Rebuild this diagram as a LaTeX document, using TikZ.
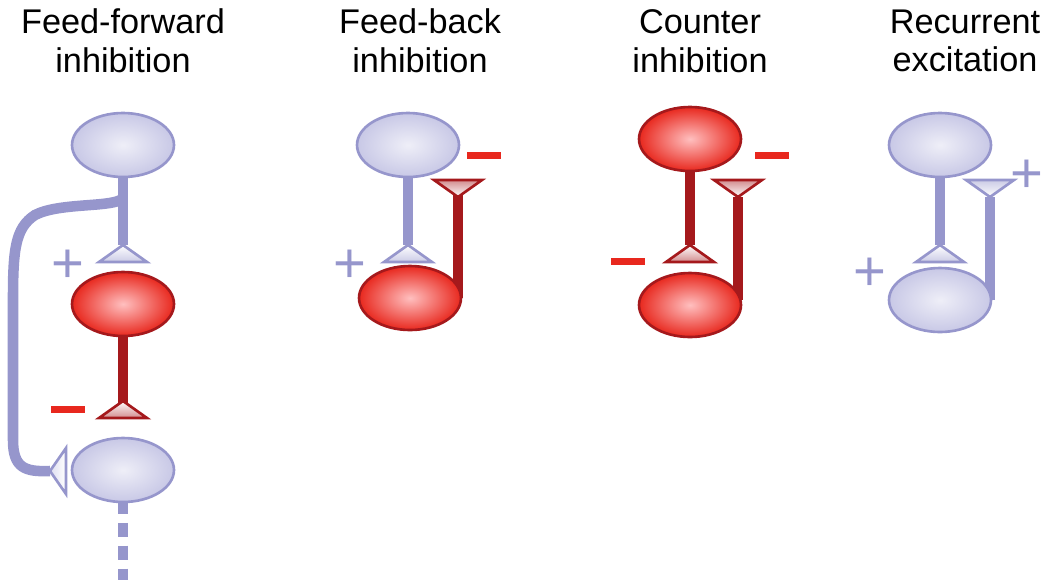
\documentclass[tikz,border=0pt]{standalone}
\usepackage{fontspec}
\setmainfont{Liberation Sans}
\usetikzlibrary{shapes.geometric}
\definecolor{lav}{RGB}{200,200,230}
\definecolor{lavline}{RGB}{150,150,204}
\definecolor{nred}{RGB}{232,40,30}
\definecolor{dred}{RGB}{165,25,28}
\tikzset{
  exc/.style={ellipse, draw=lavline, line width=1.5pt, minimum width=2.04cm, minimum height=1.28cm,
    inner color=white!70!lav, outer color=lav},
  inh/.style={ellipse, draw=dred, line width=1.5pt, minimum width=2.04cm, minimum height=1.28cm,
    inner color=red!25, outer color=nred},
  lax/.style={lavline, line width=6pt},
  rax/.style={dred, line width=6pt},
  title/.style={align=center, font=\fontsize{19.5}{22}\selectfont},
  sgn/.style={font=\fontsize{32}{32}\selectfont}
}
% synapse: up (apex above base) or down
\newcommand{\synup}[3]{\draw[#3, line width=1.5pt, top color=white, bottom color=#3!50] (#1,#2) -- (#1-24,#2+17) -- (#1+24,#2+17) -- cycle;}
\newcommand{\syndown}[3]{\draw[#3, line width=1.5pt, top color=#3!50, bottom color=white] (#1,#2) -- (#1-24,#2-17) -- (#1+24,#2-17) -- cycle;}
\newcommand{\minus}{\rule[0.3ex]{0.6em}{3.5pt}}
\begin{document}
\begin{tikzpicture}[x=0.02cm, y=-0.02cm]
\useasboundingbox (0,0) rectangle (1050,582);
% titles
\node[title] (t1) at (123,41) {Feed-forward\\inhibition};
\node[title] (t2) at (420,41) {Feed-back\\inhibition};
\node[title] (t3) at (700,41) {Counter\\inhibition};
\node[title] (t4) at (965,41) {Recurrent\\excitation};

% feed-forward
\coordinate (ffbr) at (123,198);
\coordinate (ffs1) at (123,245);
\coordinate (ffs2) at (123,403);
\coordinate (ffs3) at (50,471);
\coordinate (ffdot) at (123,580);
\draw[lax] (123,176) -- (ffs1);
\draw[lax] (ffbr) .. controls (115,208) and (60,202) .. (35,215) .. controls (15,228) and (13,250) .. (13,300) -- (13,440) .. controls (13,468) and (25,472) .. (ffs3);
\draw[rax] (123,336) -- (ffs2);
\draw[lax, dash pattern=on 8pt off 5pt] (123,500) -- (ffdot);
\node[exc] (ff1) at (123,145) {};
\node[inh] (ff2) at (123,304) {};
\node[exc] (ff3) at (123,470) {};
\synup{123}{245}{lavline}
\synup{123}{401}{dred}
\draw[lavline, line width=1.5pt, left color=lav!60, right color=white] (50,471) -- (66,448) -- (66,494) -- cycle;
\node[sgn, lavline] (ffp) at (68,266) {+};
\node[sgn, nred] (ffm) at (68,414) {\minus};

% feed-back
\coordinate (fbs1) at (408,245);
\coordinate (fbs2) at (458,195);
\draw[lax] (408,176) -- (fbs1);
\draw[rax] (458,298) -- (fbs2);
\node[exc] (fb1) at (408,145) {};
\node[inh] (fb2) at (410,298) {};
\synup{408}{245}{lavline}
\syndown{458}{197}{dred}
\node[sgn, lavline] (fbp) at (350,266) {+};
\node[sgn, nred] (fbm) at (484,160) {\minus};

% counter
\coordinate (cis1) at (690,245);
\coordinate (cis2) at (738,197);
\draw[rax] (690,170) -- (cis1);
\draw[rax] (738,300) -- (cis2);
\node[inh] (ci1) at (690,139) {};
\node[inh] (ci2) at (690,305) {};
\synup{690}{245}{dred}
\syndown{738}{197}{dred}
\node[sgn, nred] (cim1) at (772,160) {\minus};
\node[sgn, nred] (cim2) at (628,266) {\minus};

% recurrent
\coordinate (res1) at (940,245);
\coordinate (res2) at (990,197);
\draw[lax] (940,176) -- (res1);
\draw[lax] (990,300) -- (res2);
\node[exc] (re1) at (940,145) {};
\node[exc] (re2) at (940,300) {};
\synup{940}{245}{lavline}
\syndown{990}{197}{lavline}
\node[sgn, lavline] (rep1) at (1027,176) {+};
\node[sgn, lavline] (rep2) at (870,274) {+};
\end{tikzpicture}
\end{document}
